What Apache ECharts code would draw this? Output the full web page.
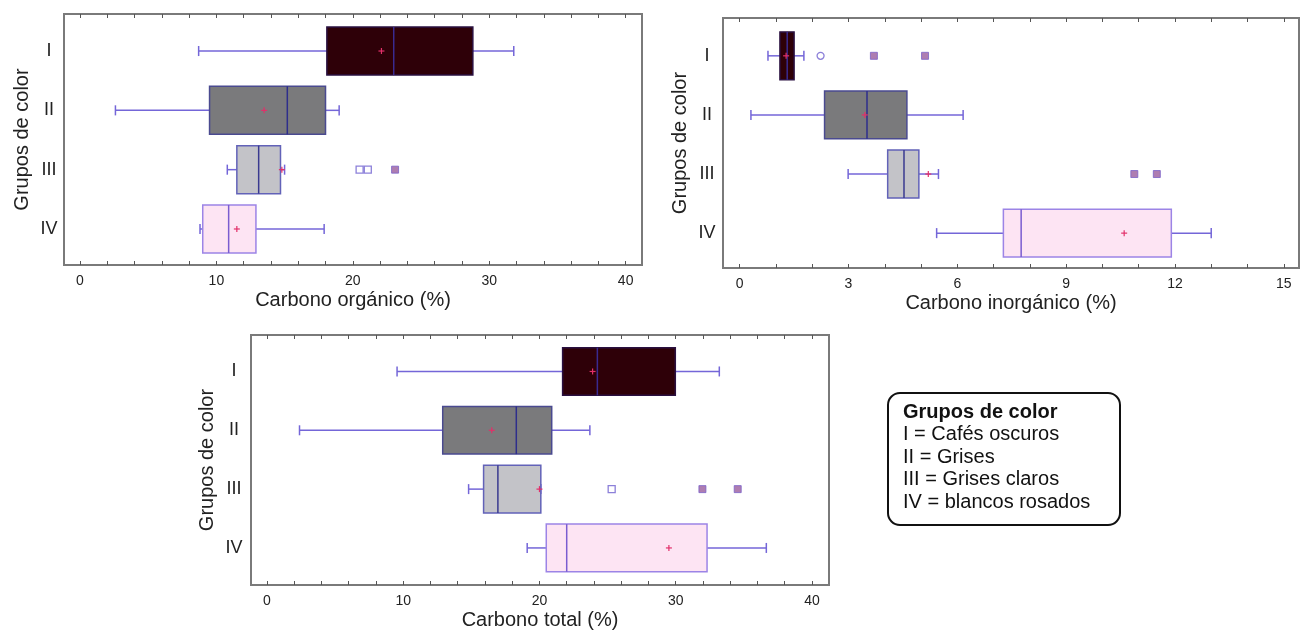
<!DOCTYPE html>
<html>
<head>
<meta charset="utf-8">
<script src="https://cdn.jsdelivr.net/npm/echarts@6/dist/echarts.min.js"></script>
<style>
html,body{margin:0;padding:0;background:#fff;}
#chart{width:1301px;height:631px;}
</style>
</head>
<body>
<div id="chart"></div>
<script>
// ---------------- DATA ----------------
const categories = ['I', 'II', 'III', 'IV'];

// [min, Q1, median, Q3, max]
const organicBox = [[8.7, 18.1, 23.0, 28.8, 31.8], [2.6, 9.5, 15.2, 18.0, 19.0], [10.8, 11.5, 13.1, 14.7, 15.0], [8.8, 9.0, 10.9, 12.9, 17.9]];
const organicMean = [22.1, 13.5, 14.8, 11.5];
const organicOutliers = [[20.5, 'III'], [21.1, 'III']];
const organicFarOutliers = [[23.1, 'III']];

const inorganicBox = [[0.78, 1.11, 1.31, 1.50, 1.77], [0.31, 2.34, 3.51, 4.61, 6.16], [2.99, 4.08, 4.53, 4.94, 5.48], [5.43, 7.27, 7.76, 11.9, 13.0]];
const inorganicMean = [1.28, 3.45, 5.2, 10.6];
const inorganicOutliers = [[2.23, 'I']];
const inorganicFarOutliers = [[3.70, 'I'], [5.11, 'I'], [10.88, 'III'], [11.50, 'III']];

const totalBox = [[9.55, 21.7, 24.25, 29.97, 33.2], [2.39, 12.9, 18.3, 20.9, 23.7], [14.8, 15.9, 16.95, 20.1, 20.1], [19.1, 20.5, 22.0, 32.3, 36.65]];
const totalMean = [23.9, 16.5, 20.0, 29.5];
const totalOutliers = [[25.3, 'III']];
const totalFarOutliers = [[31.96, 'III'], [34.55, 'III']];

const ticks40 = [0, 10, 20, 30, 40];
const minorTicks40 = [0, 2, 4, 6, 8, 10, 12, 14, 16, 18, 20, 22, 24, 26, 28, 30, 32, 34, 36, 38, 40];
const ticks15 = [0, 3, 6, 9, 12, 15];
const minorTicks15 = [0, 1, 2, 3, 4, 5, 6, 7, 8, 9, 10, 11, 12, 13, 14, 15];

const yAxisName = 'Grupos de color';
const xNames = ['Carbono orgánico (%)', 'Carbono inorgánico (%)', 'Carbono total (%)'];

const legendTitle = 'Grupos de color';
const legendLines = ['I = Cafés oscuros', 'II = Grises', 'III = Grises claros', 'IV = blancos rosados'];

// ---------------- STYLE / LAYOUT ----------------
const FONT = '"Liberation Sans", Arial, sans-serif';
const boxStyles = [
  { fill: '#2e0008', border: '#2a1040', median: '#3a2a90' },
  { fill: '#7a7a7c', border: '#4a4a90', median: '#2e2e8c' },
  { fill: '#c3c3c8', border: '#6262b8', median: '#3a3a90' },
  { fill: '#fde4f3', border: '#9c84e6', median: '#7a5cd0' }
];
const whiskerColor = '#7466d8';
const meanColor = '#e2306a';

const panels = [
  { grid: { left: 64, top: 14, width: 578, height: 251 }, xMin: -1.17, xMax: 41.2, yMin: 0.376, yMax: 4.607,
    ticks: ticks40, minor: minorTicks40, box: organicBox, mean: organicMean, out: organicOutliers, far: organicFarOutliers,
    nearSymbol: 'rect', name: xNames[0], labelMargin: 15, yNameGap: 32 },
  { grid: { left: 723, top: 18, width: 576, height: 250 }, xMin: -0.46, xMax: 15.42, yMin: 0.36, yMax: 4.59,
    ticks: ticks15, minor: minorTicks15, box: inorganicBox, mean: inorganicMean, out: inorganicOutliers, far: inorganicFarOutliers,
    nearSymbol: 'circle', name: xNames[1], labelMargin: 16, yNameGap: 33 },
  { grid: { left: 251, top: 335, width: 578, height: 252 }, xMin: -1.17, xMax: 41.25, yMin: 0.38, yMax: 4.63,
    ticks: ticks40, minor: minorTicks40, box: totalBox, mean: totalMean, out: totalOutliers, far: totalFarOutliers,
    nearSymbol: 'rect', name: xNames[2], labelMargin: 17, yNameGap: 34 }
];

const grids = [], xAxes = [], yAxes = [], series = [];

panels.forEach((p, gi) => {
  grids.push(Object.assign({ show: true, borderColor: '#7a7a7a', borderWidth: 2, backgroundColor: '#fff' }, p.grid));
  const tickStyle = { show: true, inside: true, length: 4, customValues: p.minor, lineStyle: { color: '#555', width: 1 } };
  xAxes.push({
    type: 'value', gridIndex: gi, min: p.xMin, max: p.xMax, position: 'bottom',
    axisLine: { show: false }, splitLine: { show: false },
    axisTick: tickStyle,
    axisLabel: { customValues: p.ticks, fontSize: 14, color: '#222', margin: 9, fontFamily: FONT },
    name: p.name, nameLocation: 'middle', nameGap: 25,
    nameTextStyle: { fontSize: 20, color: '#222', fontFamily: FONT }
  });
  xAxes.push({
    type: 'value', gridIndex: gi, min: p.xMin, max: p.xMax, position: 'top',
    axisLine: { show: false }, splitLine: { show: false },
    axisTick: tickStyle, axisLabel: { show: false }
  });
  yAxes.push({
    type: 'value', gridIndex: gi, min: p.yMin, max: p.yMax, inverse: true,
    axisLine: { show: false }, axisTick: { show: false }, splitLine: { show: false },
    axisLabel: {
      customValues: [1, 2, 3, 4], formatter: v => categories[Math.round(v) - 1] || '',
      fontSize: 18, color: '#222', align: 'center', margin: p.labelMargin, fontFamily: FONT
    },
    name: yAxisName, nameLocation: 'middle', nameGap: p.yNameGap, nameRotate: 90,
    nameTextStyle: { fontSize: 20, color: '#222', fontFamily: FONT }
  });

  const data = p.box.map((b, i) => [i + 1, b[0], b[1], b[2], b[3], b[4], p.mean[i]]);
  series.push({
    type: 'custom', coordinateSystem: 'cartesian2d', xAxisIndex: gi * 2, yAxisIndex: gi,
    data: data, encode: { x: [1, 2, 3, 4, 5, 6], y: 0 }, silent: true,
    renderItem: function (params, api) {
      const yv = api.value(0);
      const st = boxStyles[params.dataIndex];
      const c = v => api.coord([v, yv]);
      const pMin = c(api.value(1)), pQ1 = c(api.value(2)), pMed = c(api.value(3)),
            pQ3 = c(api.value(4)), pMax = c(api.value(5)), pMean = c(api.value(6));
      const unit = Math.abs(api.size([0, 1])[1]);
      const h = unit * 0.81, cap = unit * 0.17;
      const cy = pQ1[1];
      const wl = { stroke: whiskerColor, lineWidth: 1.5 };
      const m = 3;
      return {
        type: 'group',
        children: [
          { type: 'line', shape: { x1: pMin[0], y1: cy, x2: pQ1[0], y2: cy }, style: wl },
          { type: 'line', shape: { x1: pQ3[0], y1: cy, x2: pMax[0], y2: cy }, style: wl },
          { type: 'line', shape: { x1: pMin[0], y1: cy - cap / 2, x2: pMin[0], y2: cy + cap / 2 }, style: wl },
          { type: 'line', shape: { x1: pMax[0], y1: cy - cap / 2, x2: pMax[0], y2: cy + cap / 2 }, style: wl },
          { type: 'rect', shape: { x: pQ1[0], y: cy - h / 2, width: pQ3[0] - pQ1[0], height: h },
            style: { fill: st.fill, stroke: st.border, lineWidth: 1.5 } },
          { type: 'line', shape: { x1: pMed[0], y1: cy - h / 2, x2: pMed[0], y2: cy + h / 2 },
            style: { stroke: st.median, lineWidth: 1.5 } },
          { type: 'line', shape: { x1: pMean[0] - m, y1: pMean[1], x2: pMean[0] + m, y2: pMean[1] }, style: { stroke: meanColor, lineWidth: 1.2 } },
          { type: 'line', shape: { x1: pMean[0], y1: pMean[1] - m, x2: pMean[0], y2: pMean[1] + m }, style: { stroke: meanColor, lineWidth: 1.2 } }
        ]
      };
    }
  });
  series.push({
    type: 'scatter', xAxisIndex: gi * 2, yAxisIndex: gi, silent: true,
    data: p.out.map(o => [o[0], categories.indexOf(o[1]) + 1]),
    symbol: p.nearSymbol, symbolSize: 7,
    itemStyle: { color: '#fff', borderColor: '#6f60d0', borderWidth: 1.3 }
  });
  series.push({
    type: 'scatter', xAxisIndex: gi * 2, yAxisIndex: gi, silent: true,
    data: p.far.map(o => [o[0], categories.indexOf(o[1]) + 1]),
    symbol: 'rect', symbolSize: 7,
    itemStyle: { color: '#9a5c9e', borderColor: '#7a62c8', borderWidth: 1 }
  });
});

const legendGraphic = [
  { type: 'rect', shape: { x: 888, y: 393, width: 232, height: 132, r: 12 },
    style: { fill: '#fff', stroke: '#111', lineWidth: 2 } },
  { type: 'text', x: 903, y: 412,
    style: { text: legendTitle, font: 'bold 20px ' + FONT, fill: '#111', verticalAlign: 'middle' } }
].concat(legendLines.map((t, i) => ({
  type: 'text', x: 903, y: 434.5 + i * 22.6,
  style: { text: t, font: '20px ' + FONT, fill: '#111', verticalAlign: 'middle' }
})));

const chart = echarts.init(document.getElementById('chart'), null, { renderer: 'canvas' });
chart.setOption({
  animation: false,
  backgroundColor: '#fff',
  textStyle: { fontFamily: FONT },
  grid: grids,
  xAxis: xAxes,
  yAxis: yAxes,
  series: series,
  graphic: legendGraphic
});
</script>
</body>
</html>
